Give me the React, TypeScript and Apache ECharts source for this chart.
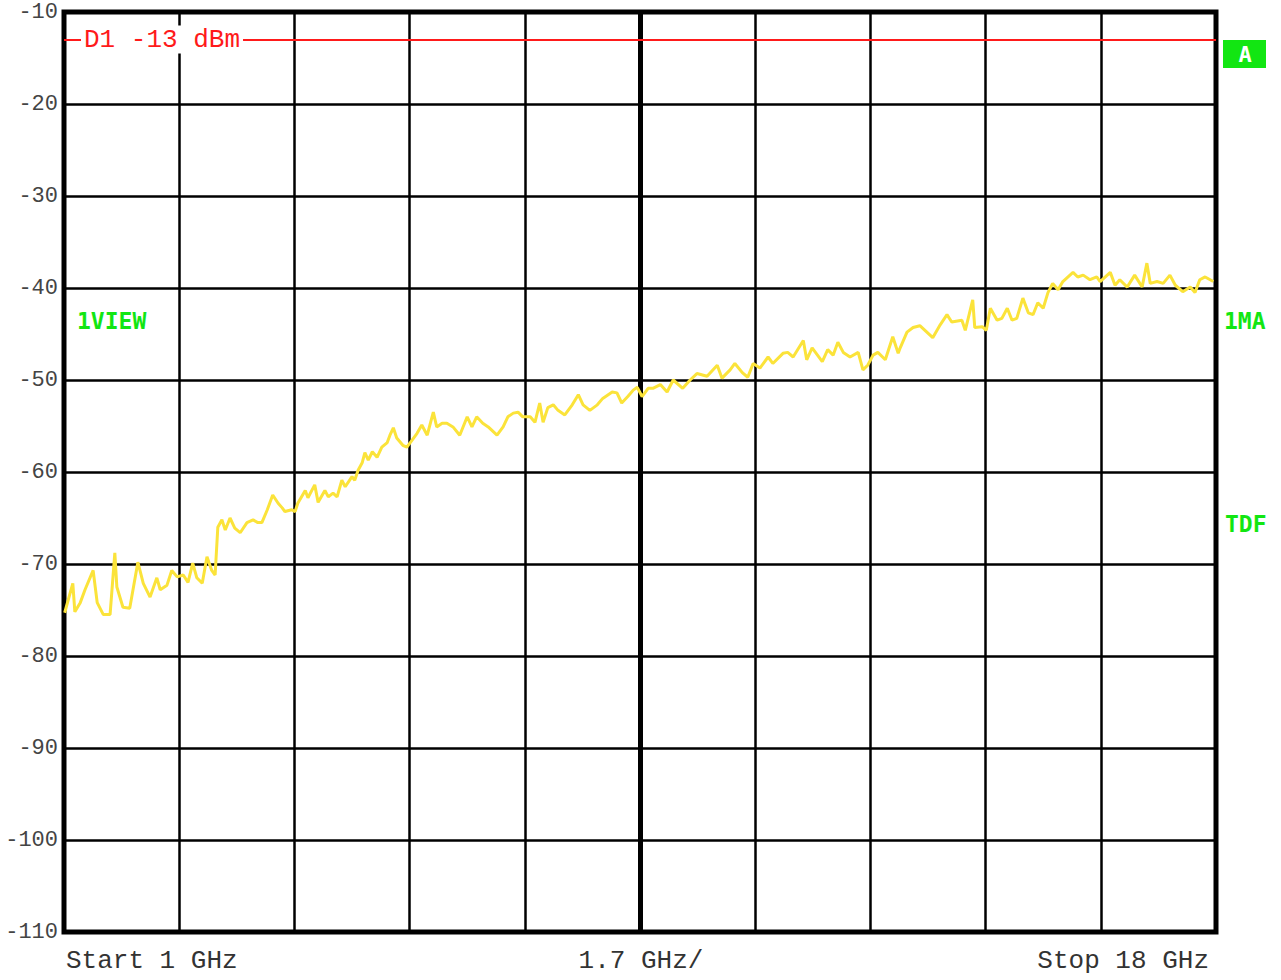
import React, { useEffect, useRef } from "react";
import * as echarts from "echarts";

// Trace: frequency (GHz) and level (dBm)
const freqGHz = [
  1.01, 1.13, 1.16, 1.24, 1.31, 1.43, 1.49, 1.58, 1.68, 1.75, 1.78, 1.87, 1.97, 2.09, 2.17, 2.27, 2.37, 2.42,
  2.52, 2.59, 2.67, 2.76, 2.83, 2.9, 2.96, 3.04, 3.11, 3.18, 3.23, 3.27, 3.33, 3.38, 3.45, 3.52, 3.6, 3.7,
  3.79, 3.86, 3.92, 4.0, 4.08, 4.16, 4.22, 4.26, 4.36, 4.41, 4.45, 4.56, 4.6, 4.7, 4.75, 4.85, 4.9, 4.97,
  5.03, 5.1, 5.15, 5.25, 5.29, 5.34, 5.4, 5.44, 5.49, 5.55, 5.62, 5.69, 5.77, 5.81, 5.86, 5.91, 6.0, 6.06,
  6.14, 6.21, 6.28, 6.36, 6.45, 6.5, 6.58, 6.65, 6.74, 6.84, 6.95, 7.02, 7.09, 7.18, 7.26, 7.39, 7.48, 7.55,
  7.63, 7.7, 7.77, 7.88, 7.95, 8.02, 8.07, 8.14, 8.22, 8.29, 8.39, 8.5, 8.59, 8.66, 8.76, 8.87, 8.95, 9.09,
  9.16, 9.23, 9.32, 9.4, 9.46, 9.53, 9.62, 9.69, 9.8, 9.9, 9.99, 10.13, 10.24, 10.34, 10.49, 10.64, 10.71,
  10.83, 10.9, 11.01, 11.09, 11.17, 11.27, 11.39, 11.46, 11.61, 11.68, 11.76, 11.91, 11.96, 12.04, 12.19,
  12.27, 12.35, 12.42, 12.5, 12.6, 12.72, 12.79, 12.86, 12.94, 13.01, 13.12, 13.23, 13.31, 13.34, 13.44,
  13.53, 13.63, 13.82, 13.93, 14.03, 14.1, 14.25, 14.3, 14.41, 14.44, 14.55, 14.61, 14.67, 14.77, 14.84,
  14.92, 14.99, 15.06, 15.15, 15.23, 15.3, 15.37, 15.45, 15.52, 15.59, 15.67, 15.74, 15.89, 15.96, 16.04,
  16.14, 16.24, 16.29, 16.44, 16.51, 16.58, 16.69, 16.8, 16.91, 16.98, 17.03, 17.13, 17.22, 17.32, 17.4,
  17.51, 17.62, 17.69, 17.76, 17.84, 17.96,
];
const levelDbm = [
  -75.3, -72.1, -75.2, -74.2, -72.8, -70.7, -74.2, -75.5, -75.5, -68.8, -72.5, -74.7, -74.8, -69.8, -72.1,
  -73.6, -71.5, -72.8, -72.3, -70.7, -71.4, -71.2, -72.0, -69.9, -71.5, -72.1, -69.2, -70.7, -71.2, -66.0,
  -65.2, -66.3, -65.0, -66.1, -66.6, -65.5, -65.2, -65.5, -65.5, -64.1, -62.5, -63.4, -63.9, -64.3, -64.1,
  -64.3, -63.4, -62.0, -62.8, -61.4, -63.3, -62.0, -62.7, -62.3, -62.7, -60.9, -61.6, -60.5, -60.9, -59.8,
  -59.0, -57.9, -58.7, -57.8, -58.4, -57.3, -56.8, -56.0, -55.2, -56.3, -57.1, -57.3, -56.5, -55.8, -54.9,
  -56.0, -53.5, -55.1, -54.7, -54.7, -55.1, -56.0, -54.0, -55.1, -54.0, -54.7, -55.1, -56.0, -55.1, -54.0,
  -53.6, -53.5, -54.0, -54.0, -54.6, -52.5, -54.6, -53.0, -52.7, -53.3, -53.8, -52.7, -51.6, -52.7, -53.3,
  -52.7, -52.0, -51.3, -51.4, -52.5, -51.8, -51.1, -50.8, -51.8, -50.9, -50.9, -50.5, -51.3, -50.0, -50.9,
  -50.0, -49.3, -49.6, -48.4, -49.8, -48.9, -48.2, -49.2, -49.7, -48.2, -48.7, -47.5, -48.2, -47.1, -47.0,
  -47.5, -45.7, -47.8, -46.5, -48.0, -46.7, -47.3, -45.9, -47.0, -47.5, -47.0, -48.9, -48.4, -47.3, -47.0,
  -47.8, -45.3, -47.1, -46.5, -44.8, -44.3, -44.1, -45.4, -44.0, -42.9, -43.7, -43.5, -44.6, -41.3, -44.3,
  -44.2, -44.6, -42.2, -43.5, -43.3, -42.2, -43.5, -43.3, -41.1, -42.7, -42.9, -41.6, -42.2, -40.5, -39.5,
  -40.2, -39.3, -38.3, -38.8, -38.6, -39.1, -38.8, -39.3, -38.3, -39.7, -39.1, -39.9, -38.6, -39.9, -37.3,
  -39.5, -39.3, -39.5, -38.6, -39.7, -40.4, -39.9, -40.5, -39.1, -38.8, -39.3,
];

const startGHz = 1;
const stopGHz = 18;
const centerGHz = 9.5;
const displayLineDbm = -13;
const yMin = -110;
const yMax = -10;
const yStep = 10;
const divisions = 10;
const displayLineLabel = "D1 -13 dBm";
const bottomLabels = ["Start 1 GHz", "1.7 GHz/", "Stop 18 GHz"];
const sideLabels = ["1VIEW", "1MA", "TDF"];
const badgeLabel = "A";

const GREEN = "#12e612";
const RED = "#ff1a1a";
const YELLOW = "#fbe33a";
const MONO = "'Liberation Mono', 'DejaVu Sans Mono', monospace";

export default function App() {
  const ref = useRef<HTMLDivElement>(null);

  useEffect(() => {
    if (!ref.current) return;
    const chart = echarts.init(ref.current, undefined, { renderer: "svg" });
    const trace = freqGHz.map((f, i) => [f, levelDbm[i]]);

    chart.setOption({
      animation: false,
      backgroundColor: "#ffffff",
      grid: {
        left: 64,
        top: 12,
        width: 1152,
        height: 920,
        show: true,
        borderColor: "#000",
        borderWidth: 5,
        backgroundColor: "transparent",
      },
      xAxis: [
        {
          type: "value",
          min: 0,
          max: divisions,
          interval: 1,
          axisLine: { show: false },
          axisTick: { show: false },
          axisLabel: { show: false },
          splitLine: { show: true, lineStyle: { color: "#000", width: 2.5 } },
        },
        {
          type: "value",
          min: startGHz,
          max: stopGHz,
          show: false,
          splitLine: { show: false },
        },
      ],
      yAxis: {
        type: "value",
        min: yMin,
        max: yMax,
        interval: yStep,
        axisLine: { show: false },
        axisTick: { show: false },
        axisLabel: {
          margin: 6,
          fontFamily: MONO,
          fontSize: 22,
          color: "#444",
        },
        splitLine: { show: true, lineStyle: { color: "#000", width: 2.5 } },
      },
      series: [
        {
          type: "line",
          xAxisIndex: 1,
          data: [],
          z: 1,
          silent: true,
          markLine: {
            silent: true,
            symbol: "none",
            animation: false,
            label: { show: false },
            data: [
              { xAxis: centerGHz, lineStyle: { color: "#000", width: 5, type: "solid" } },
              { yAxis: displayLineDbm, lineStyle: { color: RED, width: 2, type: "solid" } },
            ],
          },
        },
        {
          type: "line",
          xAxisIndex: 1,
          data: trace,
          z: 5,
          showSymbol: false,
          symbol: "none",
          lineStyle: { color: YELLOW, width: 3 },
        },
      ],
      graphic: [
        {
          type: "text",
          x: 81,
          y: 39.5,
          z: 10,
          style: {
            text: displayLineLabel,
            fill: RED,
            fontSize: 26,
            fontFamily: MONO,
            verticalAlign: "middle",
            backgroundColor: "#fff",
            padding: [1, 3],
          },
        },
        {
          type: "text",
          x: 66,
          y: 961,
          style: { text: bottomLabels[0], fill: "#333", fontSize: 26, fontFamily: MONO, verticalAlign: "middle" },
        },
        {
          type: "text",
          x: 641,
          y: 961,
          style: {
            text: bottomLabels[1],
            fill: "#333",
            fontSize: 26,
            fontFamily: MONO,
            align: "center",
            verticalAlign: "middle",
          },
        },
        {
          type: "text",
          x: 1209,
          y: 961,
          style: {
            text: bottomLabels[2],
            fill: "#333",
            fontSize: 26,
            fontFamily: MONO,
            align: "right",
            verticalAlign: "middle",
          },
        },
        {
          type: "text",
          x: 77,
          y: 321,
          style: {
            text: sideLabels[0],
            fill: GREEN,
            fontSize: 23,
            fontWeight: "bold",
            fontFamily: "'DejaVu Sans Mono', monospace",
            verticalAlign: "middle",
          },
        },
        {
          type: "text",
          x: 1224,
          y: 321,
          style: {
            text: sideLabels[1],
            fill: GREEN,
            fontSize: 23,
            fontWeight: "bold",
            fontFamily: "'DejaVu Sans Mono', monospace",
            verticalAlign: "middle",
          },
        },
        {
          type: "text",
          x: 1225,
          y: 524,
          style: {
            text: sideLabels[2],
            fill: GREEN,
            fontSize: 23,
            fontWeight: "bold",
            fontFamily: "'DejaVu Sans Mono', monospace",
            verticalAlign: "middle",
          },
        },
        {
          type: "rect",
          shape: { x: 1223, y: 40, width: 43, height: 28 },
          style: { fill: GREEN },
        },
        {
          type: "text",
          x: 1245,
          y: 54,
          style: {
            text: badgeLabel,
            fill: "#fff",
            fontSize: 22,
            fontWeight: "bold",
            fontFamily: "'DejaVu Sans Mono', monospace",
            align: "center",
            verticalAlign: "middle",
          },
        },
      ],
    });

    return () => chart.dispose();
  }, []);

  return (
    <div
      ref={ref}
      style={{ position: "fixed", left: 0, top: 0, width: 1281, height: 980, background: "#fff" }}
    />
  );
}
